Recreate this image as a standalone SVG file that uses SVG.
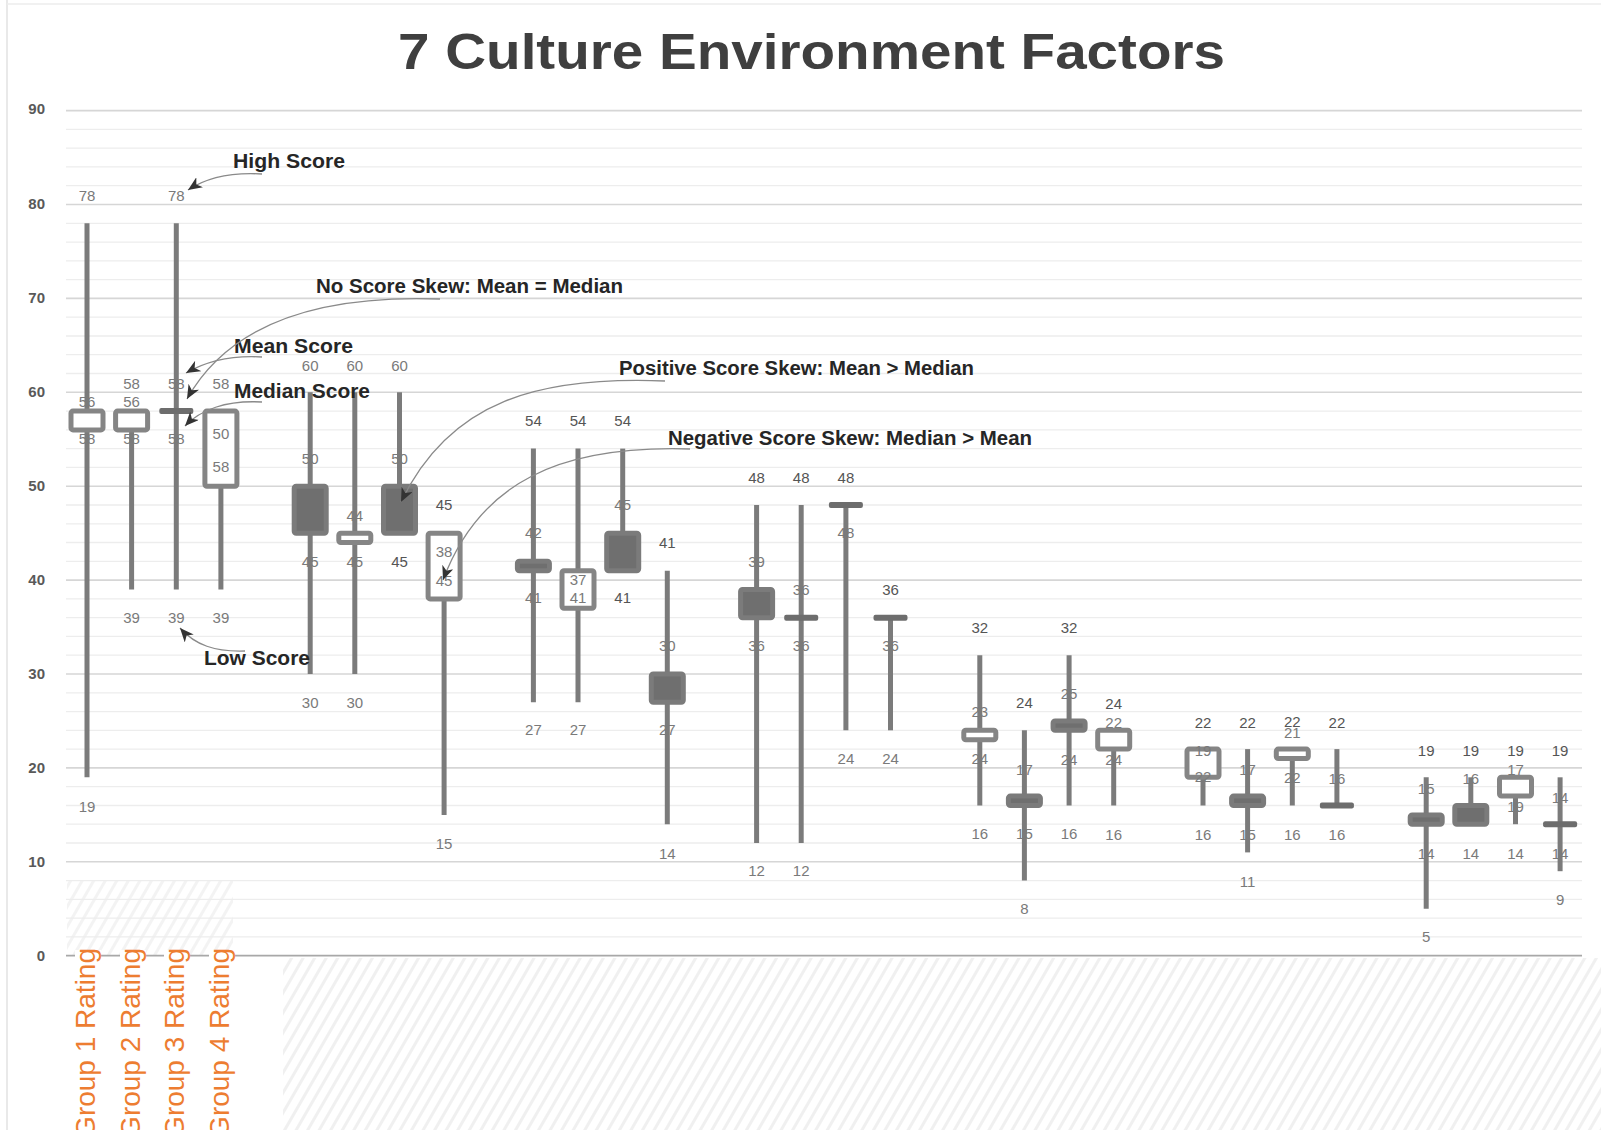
<svg xmlns="http://www.w3.org/2000/svg" width="1601" height="1130" viewBox="0 0 1601 1130">
  <style>
    .title { font-family: "Liberation Sans", Arial, sans-serif; font-size: 50px; font-weight: 700; fill: #3f3f3f; }
    .ytick { font-family: "Liberation Sans", Arial, sans-serif; font-size: 15px; font-weight: 700; fill: #595959; text-anchor: end; }
    .grp { font-family: "Liberation Sans", Arial, sans-serif; font-size: 28px; fill: #ED7D31; text-anchor: end; }
    .lb { font-family: "Liberation Sans", Arial, sans-serif; font-size: 15px; fill: #7a7a7a; text-anchor: middle; }
    .lbd { font-family: "Liberation Sans", Arial, sans-serif; font-size: 15px; fill: #555555; text-anchor: middle; }
    .note { font-family: "Liberation Sans", Arial, sans-serif; font-size: 20px; font-weight: 700; fill: #262626; }
    .wh { stroke: #7b7b7b; stroke-width: 5; }
    .bf { fill: #6f6f6f; stroke: #7b7b7b; stroke-width: 5; }
    .bh { fill: #ffffff; stroke: #858585; stroke-width: 5; }
    .bar { fill: #6d6d6d; }
    .conn { fill: none; stroke: #8a8a8a; stroke-width: 1.3; marker-end: url(#barb); }
  </style>
  <defs>
    <marker id="barb" markerUnits="userSpaceOnUse" markerWidth="16" markerHeight="12" refX="14" refY="6" orient="auto">
      <path d="M0,0 L14,6 L0,12 L4,6 Z" fill="#333333"/>
    </marker>
    <pattern id="hatch" width="10" height="10" patternUnits="userSpaceOnUse" patternTransform="rotate(30)">
      <rect width="3" height="10" fill="#f0f0f0"/>
    </pattern>
  </defs>

  <rect width="1601" height="1130" fill="#ffffff"/>
  <!-- frame edges -->
  <line x1="7" y1="0" x2="7" y2="1130" stroke="#e2e2e2" stroke-width="1.5"/>
  <line x1="7" y1="4" x2="1601" y2="4" stroke="#ececec" stroke-width="1.5"/>

  <!-- hatched category band -->
  <rect x="283" y="958" width="1318" height="172" fill="url(#hatch)"/>
  <rect x="67" y="880" width="166" height="76" fill="url(#hatch)" opacity="0.8"/>

  <!-- gridlines -->
  <g id="grid">
    <path fill="none" stroke="#ededed" stroke-width="1.3" d="M66 936.9H1582M66 918.1H1582M66 899.4H1582M66 880.6H1582M66 843.0H1582M66 824.2H1582M66 805.5H1582M66 786.7H1582M66 749.1H1582M66 730.3H1582M66 711.6H1582M66 692.8H1582M66 655.2H1582M66 636.4H1582M66 617.7H1582M66 598.9H1582M66 561.3H1582M66 542.5H1582M66 523.8H1582M66 505.0H1582M66 467.4H1582M66 448.6H1582M66 429.9H1582M66 411.1H1582M66 373.5H1582M66 354.7H1582M66 336.0H1582M66 317.2H1582M66 279.6H1582M66 260.8H1582M66 242.1H1582M66 223.3H1582M66 185.7H1582M66 166.9H1582M66 148.2H1582M66 129.4H1582"/>
    <path fill="none" stroke="#d6d6d6" stroke-width="1.6" d="M66 861.8H1582M66 767.9H1582M66 674.0H1582M66 580.1H1582M66 486.2H1582M66 392.3H1582M66 298.4H1582M66 204.5H1582M66 110.6H1582"/>
    <line x1="66" y1="955.7" x2="1582" y2="955.7" stroke="#a8a8a8" stroke-width="1.8"/>
  </g>

  <!-- value axis -->
  <g id="y-axis">
    <text class="ytick" x="45" y="114">90</text>
    <text class="ytick" x="45" y="209">80</text>
    <text class="ytick" x="45" y="303">70</text>
    <text class="ytick" x="45" y="397">60</text>
    <text class="ytick" x="45" y="491">50</text>
    <text class="ytick" x="45" y="585">40</text>
    <text class="ytick" x="45" y="679">30</text>
    <text class="ytick" x="45" y="773">20</text>
    <text class="ytick" x="45" y="867">10</text>
    <text class="ytick" x="45" y="961">0</text>
  </g>

  <text class="title" x="398" y="69" textLength="827" lengthAdjust="spacingAndGlyphs">7 Culture Environment Factors</text>

  <!-- group legend labels -->
  <g id="legend">
    <rect x="75" y="950" width="26" height="180" fill="#ffffff"/>
    <rect x="120" y="950" width="26" height="180" fill="#ffffff"/>
    <rect x="164" y="950" width="26" height="180" fill="#ffffff"/>
    <rect x="209" y="950" width="26" height="180" fill="#ffffff"/>
    <text class="grp" transform="translate(95,948) rotate(-90)">Group 1 Rating</text>
    <text class="grp" transform="translate(140,948) rotate(-90)">Group 2 Rating</text>
    <text class="grp" transform="translate(184,948) rotate(-90)">Group 3 Rating</text>
    <text class="grp" transform="translate(229,948) rotate(-90)">Group 4 Rating</text>
  </g>

  <!-- score columns: whisker high-low, box mean/median -->
  <g id="col1"><line class="wh" x1="87" y1="223.3" x2="87" y2="777.3"/><rect class="bh" x="71" y="411.1" width="32" height="18.8" rx="2"/>
    <text class="lb" x="87" y="201">78</text><text class="lb" x="87" y="407">56</text><text class="lb" x="87" y="444">58</text><text class="lb" x="87" y="812">19</text></g>
  <g id="col2"><line class="wh" x1="131.6" y1="411.1" x2="131.6" y2="589.5"/><rect class="bh" x="115.6" y="411.1" width="32" height="18.8" rx="2"/>
    <text class="lb" x="131.6" y="389">58</text><text class="lb" x="131.6" y="407">56</text><text class="lb" x="131.6" y="444">58</text><text class="lb" x="131.6" y="623">39</text></g>
  <g id="col3"><line class="wh" x1="176.3" y1="223.3" x2="176.3" y2="589.5"/><rect class="bar" x="159.3" y="408.1" width="34" height="6" rx="2"/>
    <text class="lb" x="176.3" y="201">78</text><text class="lb" x="176.3" y="389">58</text><text class="lb" x="176.3" y="444">58</text><text class="lb" x="176.3" y="623">39</text></g>
  <g id="col4"><line class="wh" x1="220.9" y1="411.1" x2="220.9" y2="589.5"/><rect class="bh" x="204.9" y="411.1" width="32" height="75.1" rx="2"/>
    <text class="lb" x="220.9" y="389">58</text><text class="lb" x="220.9" y="439">50</text><text class="lb" x="220.9" y="472">58</text><text class="lb" x="220.9" y="623">39</text></g>

  <g id="col5"><line class="wh" x1="310.2" y1="392.3" x2="310.2" y2="674"/><rect class="bf" x="294.2" y="486.2" width="32" height="47" rx="2"/>
    <text class="lb" x="310.2" y="371">60</text><text class="lb" x="310.2" y="464">50</text><text class="lb" x="310.2" y="567">45</text><text class="lb" x="310.2" y="708">30</text></g>
  <g id="col6"><line class="wh" x1="354.8" y1="392.3" x2="354.8" y2="674"/><rect class="bh" x="338.8" y="533.2" width="32" height="9.3" rx="2"/>
    <text class="lb" x="354.8" y="371">60</text><text class="lb" x="354.8" y="521">44</text><text class="lb" x="354.8" y="567">45</text><text class="lb" x="354.8" y="708">30</text></g>
  <g id="col7"><line class="wh" x1="399.5" y1="392.3" x2="399.5" y2="533.2"/><rect class="bf" x="383.5" y="486.2" width="32" height="47" rx="2"/>
    <text class="lb" x="399.5" y="371">60</text><text class="lb" x="399.5" y="464">50</text><text class="lbd" x="399.5" y="567">45</text></g>
  <g id="col8"><line class="wh" x1="444.1" y1="533.2" x2="444.1" y2="814.9"/><rect class="bh" x="428.1" y="533.2" width="32" height="65.7" rx="2"/>
    <text class="lbd" x="444.1" y="510">45</text><text class="lb" x="444.1" y="557">38</text><text class="lb" x="444.1" y="586">45</text><text class="lb" x="444.1" y="849">15</text></g>

  <g id="col9"><line class="wh" x1="533.4" y1="448.6" x2="533.4" y2="702.2"/><rect class="bf" x="517.4" y="561.3" width="32" height="9.4" rx="2"/>
    <text class="lbd" x="533.4" y="426">54</text><text class="lb" x="533.4" y="538">42</text><text class="lb" x="533.4" y="603">41</text><text class="lb" x="533.4" y="735">27</text></g>
  <g id="col10"><line class="wh" x1="578" y1="448.6" x2="578" y2="702.2"/><rect class="bh" x="562" y="570.7" width="32" height="37.6" rx="2"/>
    <text class="lbd" x="578" y="426">54</text><text class="lb" x="578" y="585">37</text><text class="lb" x="578" y="603">41</text><text class="lb" x="578" y="735">27</text></g>
  <g id="col11"><line class="wh" x1="622.7" y1="448.6" x2="622.7" y2="570.7"/><rect class="bf" x="606.7" y="533.2" width="32" height="37.5" rx="2"/>
    <text class="lbd" x="622.7" y="426">54</text><text class="lb" x="622.7" y="510">45</text><text class="lbd" x="622.7" y="603">41</text></g>
  <g id="col12"><line class="wh" x1="667.3" y1="570.7" x2="667.3" y2="824.2"/><rect class="bf" x="651.3" y="674" width="32" height="28.2" rx="2"/>
    <text class="lbd" x="667.3" y="548">41</text><text class="lb" x="667.3" y="651">30</text><text class="lb" x="667.3" y="735">27</text><text class="lb" x="667.3" y="859">14</text></g>

  <g id="col13"><line class="wh" x1="756.6" y1="505" x2="756.6" y2="843"/><rect class="bf" x="740.6" y="589.5" width="32" height="28.2" rx="2"/>
    <text class="lbd" x="756.6" y="483">48</text><text class="lb" x="756.6" y="567">39</text><text class="lb" x="756.6" y="651">36</text><text class="lb" x="756.6" y="876">12</text></g>
  <g id="col14"><line class="wh" x1="801.2" y1="505" x2="801.2" y2="843"/><rect class="bar" x="784.2" y="614.7" width="34" height="6" rx="2"/>
    <text class="lbd" x="801.2" y="483">48</text><text class="lb" x="801.2" y="595">36</text><text class="lb" x="801.2" y="651">36</text><text class="lb" x="801.2" y="876">12</text></g>
  <g id="col15"><line class="wh" x1="845.9" y1="505" x2="845.9" y2="730.3"/><rect class="bar" x="828.9" y="502" width="34" height="6" rx="2"/>
    <text class="lbd" x="845.9" y="483">48</text><text class="lb" x="845.9" y="538">48</text><text class="lb" x="845.9" y="764">24</text></g>
  <g id="col16"><line class="wh" x1="890.5" y1="617.7" x2="890.5" y2="730.3"/><rect class="bar" x="873.5" y="614.7" width="34" height="6" rx="2"/>
    <text class="lbd" x="890.5" y="595">36</text><text class="lb" x="890.5" y="651">36</text><text class="lb" x="890.5" y="764">24</text></g>

  <g id="col17"><line class="wh" x1="979.8" y1="655.2" x2="979.8" y2="805.5"/><rect class="bh" x="963.8" y="730.3" width="32" height="9.4" rx="2"/>
    <text class="lbd" x="979.8" y="633">32</text><text class="lb" x="979.8" y="717">23</text><text class="lb" x="979.8" y="764">24</text><text class="lb" x="979.8" y="839">16</text></g>
  <g id="col18"><line class="wh" x1="1024.4" y1="730.3" x2="1024.4" y2="880.6"/><rect class="bf" x="1008.4" y="796.1" width="32" height="9.4" rx="2"/>
    <text class="lbd" x="1024.4" y="708">24</text><text class="lb" x="1024.4" y="775">17</text><text class="lb" x="1024.4" y="839">15</text><text class="lb" x="1024.4" y="914">8</text></g>
  <g id="col19"><line class="wh" x1="1069.1" y1="655.2" x2="1069.1" y2="805.5"/><rect class="bf" x="1053.1" y="721" width="32" height="9.3" rx="2"/>
    <text class="lbd" x="1069.1" y="633">32</text><text class="lb" x="1069.1" y="699">25</text><text class="lb" x="1069.1" y="765">24</text><text class="lb" x="1069.1" y="839">16</text></g>
  <g id="col20"><line class="wh" x1="1113.7" y1="730.3" x2="1113.7" y2="805.5"/><rect class="bh" x="1097.7" y="730.3" width="32" height="18.8" rx="2"/>
    <text class="lbd" x="1113.7" y="709">24</text><text class="lb" x="1113.7" y="728">22</text><text class="lb" x="1113.7" y="765">24</text><text class="lb" x="1113.7" y="840">16</text></g>

  <g id="col21"><line class="wh" x1="1203" y1="749.1" x2="1203" y2="805.5"/><rect class="bh" x="1187" y="749.1" width="32" height="28.2" rx="2"/>
    <text class="lbd" x="1203" y="728">22</text><text class="lb" x="1203" y="756">19</text><text class="lb" x="1203" y="782">22</text><text class="lb" x="1203" y="840">16</text></g>
  <g id="col22"><line class="wh" x1="1247.6" y1="749.1" x2="1247.6" y2="852.4"/><rect class="bf" x="1231.6" y="796.1" width="32" height="9.4" rx="2"/>
    <text class="lbd" x="1247.6" y="728">22</text><text class="lb" x="1247.6" y="775">17</text><text class="lb" x="1247.6" y="840">15</text><text class="lb" x="1247.6" y="887">11</text></g>
  <g id="col23"><line class="wh" x1="1292.3" y1="749.1" x2="1292.3" y2="805.5"/><rect class="bh" x="1276.3" y="749.1" width="32" height="9.4" rx="2"/>
    <text class="lbd" x="1292.3" y="727">22</text><text class="lb" x="1292.3" y="738">21</text><text class="lb" x="1292.3" y="783">22</text><text class="lb" x="1292.3" y="840">16</text></g>
  <g id="col24"><line class="wh" x1="1336.9" y1="749.1" x2="1336.9" y2="805.5"/><rect class="bar" x="1319.9" y="802.5" width="34" height="6" rx="2"/>
    <text class="lbd" x="1336.9" y="728">22</text><text class="lb" x="1336.9" y="784">16</text><text class="lb" x="1336.9" y="840">16</text></g>

  <g id="col25"><line class="wh" x1="1426.2" y1="777.3" x2="1426.2" y2="908.8"/><rect class="bf" x="1410.2" y="814.9" width="32" height="9.3" rx="2"/>
    <text class="lbd" x="1426.2" y="756">19</text><text class="lb" x="1426.2" y="794">15</text><text class="lb" x="1426.2" y="859">14</text><text class="lb" x="1426.2" y="942">5</text></g>
  <g id="col26"><line class="wh" x1="1470.8" y1="777.3" x2="1470.8" y2="824.2"/><rect class="bf" x="1454.8" y="805.5" width="32" height="18.7" rx="2"/>
    <text class="lbd" x="1470.8" y="756">19</text><text class="lb" x="1470.8" y="784">16</text><text class="lb" x="1470.8" y="859">14</text></g>
  <g id="col27"><line class="wh" x1="1515.5" y1="777.3" x2="1515.5" y2="824.2"/><rect class="bh" x="1499.5" y="777.3" width="32" height="18.8" rx="2"/>
    <text class="lbd" x="1515.5" y="756">19</text><text class="lb" x="1515.5" y="775">17</text><text class="lb" x="1515.5" y="812">19</text><text class="lb" x="1515.5" y="859">14</text></g>
  <g id="col28"><line class="wh" x1="1560.1" y1="777.3" x2="1560.1" y2="871.2"/><rect class="bar" x="1543.1" y="821.2" width="34" height="6" rx="2"/>
    <text class="lbd" x="1560.1" y="756">19</text><text class="lb" x="1560.1" y="803">14</text><text class="lb" x="1560.1" y="859">14</text><text class="lb" x="1560.1" y="905">9</text></g>

  <!-- callout labels -->
  <g id="note-high"><text class="note" x="233" y="168" textLength="112" lengthAdjust="spacingAndGlyphs">High Score</text></g>
  <g id="note-noskew"><text class="note" x="316" y="293" textLength="307" lengthAdjust="spacingAndGlyphs">No Score Skew: Mean = Median</text></g>
  <g id="note-mean"><text class="note" x="234" y="353" textLength="119" lengthAdjust="spacingAndGlyphs">Mean Score</text></g>
  <g id="note-median"><text class="note" x="234" y="398" textLength="136" lengthAdjust="spacingAndGlyphs">Median Score</text></g>
  <g id="note-low"><text class="note" x="204" y="665" textLength="106" lengthAdjust="spacingAndGlyphs">Low Score</text></g>
  <g id="note-pos"><text class="note" x="619" y="375" textLength="355" lengthAdjust="spacingAndGlyphs">Positive Score Skew: Mean &gt; Median</text></g>
  <g id="note-neg"><text class="note" x="668" y="445" textLength="364" lengthAdjust="spacingAndGlyphs">Negative Score Skew: Median &gt; Mean</text></g>

  <!-- callout connectors -->
  <g id="connectors">
    <path class="conn" d="M262,174 C228,172 206,178 188,190"/>
    <path class="conn" d="M262,357 C228,355 205,362 186,373"/>
    <path class="conn" d="M440,299 C330,295 232,318 187,399"/>
    <path class="conn" d="M262,402 C226,400 200,410 185,426"/>
    <path class="conn" d="M245,651 C215,652 195,645 180,628"/>
    <path class="conn" d="M665,381 C540,376 450,400 401,502"/>
    <path class="conn" d="M690,449 C560,445 480,482 443,580"/>
  </g>
</svg>
